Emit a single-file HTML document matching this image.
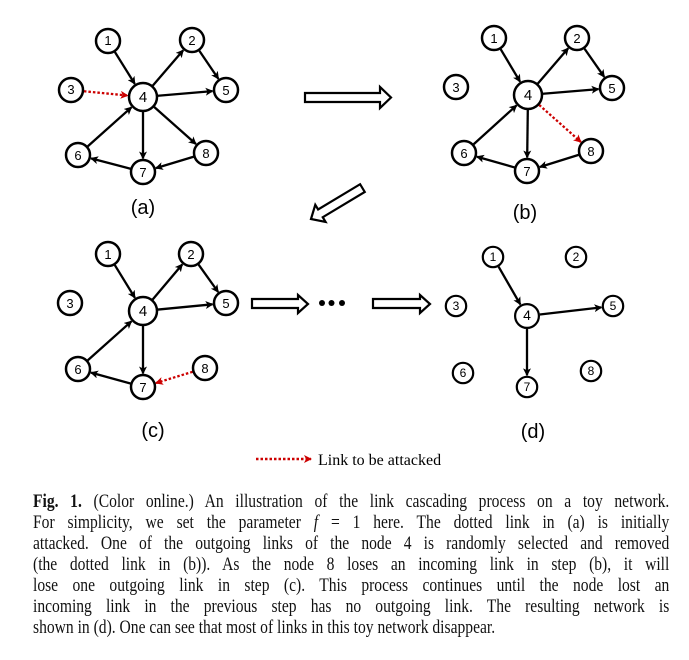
<!DOCTYPE html>
<html><head><meta charset="utf-8"><style>
body{margin:0;background:#fff;width:689px;height:660px;overflow:hidden;position:relative}
svg{position:absolute;left:0;top:0}
.cap{position:absolute;left:33px;width:637px;font-family:"Liberation Serif",serif;font-size:19px;line-height:21px;top:491px;color:#111}
.cap div{text-align:justify;text-align-last:justify;white-space:nowrap;transform:scaleX(0.82);transform-origin:0 0;width:776px}
</style></head><body>
<svg id="s" width="689" height="660" viewBox="0 0 689 660" font-family="Liberation Sans, DejaVu Sans, sans-serif">
<defs>
<marker id="ab" markerWidth="8" markerHeight="8" refX="7" refY="4" orient="auto" markerUnits="userSpaceOnUse"><path d="M0,0 L8,4 L0,8 L2,4z" fill="#000"/></marker>
<marker id="ar" markerWidth="8" markerHeight="8" refX="7" refY="4" orient="auto" markerUnits="userSpaceOnUse"><path d="M0,0 L8,4 L0,8 L2,4z" fill="#c00"/></marker>
</defs>
<g id="edges"></g>
<g id="nodes" fill="#fff" stroke="#000" stroke-width="2.5"></g>
<g font-size="13" text-anchor="middle" fill="#000" id="labels">
<text x="108" y="45">1</text><text x="192" y="45">2</text><text x="71" y="94">3</text><text x="143" y="102" font-size="15">4</text><text x="226" y="95">5</text><text x="78" y="160">6</text><text x="143" y="177">7</text><text x="206" y="158">8</text>
<text x="494" y="43">1</text><text x="577" y="43">2</text><text x="456" y="92">3</text><text x="528" y="100" font-size="15">4</text><text x="612" y="93">5</text><text x="464" y="158">6</text><text x="527" y="176">7</text><text x="591" y="156">8</text>
<text x="108" y="259">1</text><text x="191" y="259">2</text><text x="70" y="308">3</text><text x="143" y="316" font-size="15">4</text><text x="226" y="308">5</text><text x="78" y="374">6</text><text x="143" y="392">7</text><text x="205" y="373">8</text>
<g font-size="12"><text x="493" y="261">1</text><text x="576" y="261">2</text><text x="456" y="310">3</text><text x="527" y="320" font-size="14">4</text><text x="613" y="310">5</text><text x="463" y="377">6</text><text x="527" y="391">7</text><text x="591" y="375">8</text></g>
<g font-size="20"><text x="143" y="214">(a)</text><text x="525" y="219">(b)</text><text x="153" y="437">(c)</text><text x="533" y="438">(d)</text></g>
</g>
<g fill="#fff" stroke="#000" stroke-width="2.2">
<path d="M305,93 L380,93 L380,87 L391,97.5 L380,108 L380,102 L305,102Z"/>
<path d="M252,299 L298,299 L298,295 L308,304 L298,313 L298,308 L252,308Z"/>
<path d="M373,299 L420,299 L420,295 L430,304 L420,313 L420,308 L373,308Z"/>
<path transform="translate(311,219) rotate(-31)" d="M0,0 L11,-10 L11,-4.5 L60,-4.5 L60,4.5 L11,4.5 L11,10Z"/>
</g>
<g fill="#000"><circle cx="322" cy="303" r="3"/><circle cx="331.5" cy="303" r="3"/><circle cx="342" cy="303" r="3"/></g>
<line x1="256" y1="459" x2="311" y2="459" stroke="#c00" stroke-width="2.5" stroke-dasharray="2.5,2" marker-end="url(#ar)"/>
<text x="318" y="465" font-family="Liberation Serif, serif" font-size="16">Link to be attacked</text>
</svg>
<div class="cap">
<div><b>Fig. 1.</b> (Color online.) An illustration of the link cascading process on a toy network.</div>
<div>For simplicity, we set the parameter <i>f</i> = 1 here. The dotted link in (a) is initially</div>
<div>attacked. One of the outgoing links of the node 4 is randomly selected and removed</div>
<div>(the dotted link in (b)). As the node 8 loses an incoming link in step (b), it will</div>
<div>lose one outgoing link in step (c). This process continues until the node lost an</div>
<div>incoming link in the previous step has no outgoing link. The resulting network is</div>
<div style="text-align-last:left">shown in (d). One can see that most of links in this toy network disappear.</div>
</div>
<script>
var P={
a:{1:[108,41],2:[192,40],3:[71,90],4:[143,97],5:[226,90],6:[78,155],7:[143,172],8:[206,153]},
b:{1:[494,38],2:[577,38],3:[456,87],4:[528,95],5:[612,88],6:[464,153],7:[527,171],8:[591,151]},
c:{1:[108,254],2:[191,254],3:[70,303],4:[143,311],5:[226,303],6:[78,369],7:[143,387],8:[205,368]},
d:{1:[493,257],2:[576,257],3:[456,306],4:[527,316],5:[613,306],6:[463,373],7:[527,387],8:[591,371]}};
var E={a:[[1,4],[4,2],[2,5],[4,5],[3,4,1],[4,7],[4,8],[8,7],[7,6],[6,4]],
b:[[1,4],[4,2],[2,5],[4,5],[4,8,1],[4,7],[8,7],[7,6],[6,4]],
c:[[1,4],[4,2],[2,5],[4,5],[4,7],[8,7,1],[7,6],[6,4]],
d:[[1,4],[4,5],[4,7]]};
var ns="http://www.w3.org/2000/svg",eg=document.getElementById('edges'),ng=document.getElementById('nodes');
function R(p,n){var s=p=='d'?0.85:1;return (n==4?14:12)*s;}
for(var p in P){for(var n in P[p]){var c=document.createElementNS(ns,'circle');c.setAttribute('cx',P[p][n][0]);c.setAttribute('cy',P[p][n][1]);c.setAttribute('r',R(p,n));if(p=='d')c.setAttribute('stroke-width','2.2');ng.appendChild(c);}
E[p].forEach(function(e){var A=P[p][e[0]],B=P[p][e[1]],dx=B[0]-A[0],dy=B[1]-A[1],L=Math.hypot(dx,dy),ux=dx/L,uy=dy/L,r1=R(p,e[0])+1,r2=R(p,e[1])+1.5;
var l=document.createElementNS(ns,'line');l.setAttribute('x1',A[0]+ux*r1);l.setAttribute('y1',A[1]+uy*r1);l.setAttribute('x2',B[0]-ux*r2);l.setAttribute('y2',B[1]-uy*r2);
if(e[2]){l.setAttribute('stroke','#c00');l.setAttribute('stroke-dasharray','2.5,2');l.setAttribute('marker-end','url(#ar)');}else{l.setAttribute('stroke','#000');l.setAttribute('marker-end','url(#ab)');}
l.setAttribute('stroke-width','2.3');eg.appendChild(l);});}
</script>
</body></html>
